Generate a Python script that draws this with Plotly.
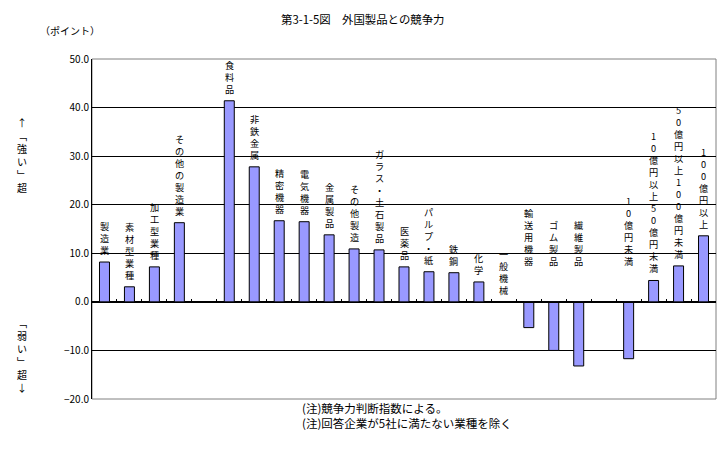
import plotly.graph_objects as go

categories = [
    "製造業", "素材型業種", "加工型業種", "その他の製造業", "",
    "食料品", "非鉄金属", "精密機器", "電気機器", "金属製品", "その他製造",
    "ガラス・土石製品", "医薬品", "パルプ・紙", "鉄鋼", "化学", "一般機械",
    "輸送用機器", "ゴム製品", "繊維製品", "",
    "10億円未満", "10億円以上50億円未満", "50億円以上100億円未満", "100億円以上",
]
values = [
    8.2, 3.1, 7.2, 16.3, None,
    41.4, 27.8, 16.7, 16.5, 13.8, 10.9,
    10.7, 7.2, 6.2, 6.0, 4.1, 0.0,
    -5.3, -10.0, -13.2, None,
    -11.7, 4.4, 7.4, 13.6,
]
y_ticks = [-20, -10, 0, 10, 20, 30, 40, 50]

FONT = "Noto Sans CJK JP"
xs = list(range(len(categories)))

fig = go.Figure(
    go.Bar(
        x=xs,
        y=[v if v is not None else 0 for v in values],
        width=0.4,
        marker={"color": "#9999FF", "line": {"color": "black", "width": 1}},
        hoverinfo="skip",
    )
)

# vertical category labels above each bar (or above the axis for negatives)
for x, name, v in zip(xs, categories, values):
    if not name or v is None:
        continue
    fig.add_annotation(
        x=x,
        y=max(v, 0),
        yshift=3 if v >= 0 else 32,
        text="<br>".join(name),
        showarrow=False,
        yanchor="bottom",
        font={"size": 9.2, "color": "black", "family": FONT},
    )

fig.update_xaxes(
    range=[-0.5, len(categories) - 0.5],
    showticklabels=False,
    showgrid=False,
    zeroline=False,
    anchor="free",
    position=20 / 70,
    showline=True,
    linecolor="black",
    linewidth=1,
    ticks="inside",
    ticklen=3,
    tickcolor="black",
    tickmode="array",
    tickvals=[i - 0.5 for i in range(len(categories) + 1)],
)
fig.update_yaxes(
    range=[-20, 50],
    tickvals=y_ticks,
    tickformat=".1f",
    showgrid=True,
    gridcolor="black",
    gridwidth=1,
    zeroline=False,
    showline=True,
    linecolor="black",
    linewidth=1,
    ticks="",
    tickfont={"size": 10, "family": FONT},
)

# gray frame on top / right / bottom
fig.add_shape(
    type="rect", xref="paper", yref="paper", x0=0, x1=1, y0=0, y1=1,
    line={"color": "#808080", "width": 1}, layer="below",
)

texts = [
    ("第3-1-5図　外国製品との競争力", 0.433, 1.118, "center", 11.4),
    ("（ポイント）", -0.035, 1.085, "center", 10),
    ("(注)競争力判断指数による。", 0.333, -0.026, "left", 11.5),
    ("(注)回答企業が5社に満たない業種を除く", 0.333, -0.07, "left", 11.5),
    ("↑<br>﹁<br>強<br>い<br>﹂<br>超", -0.112, 0.718, "center", 10),
    ("﹁<br>弱<br>い<br>﹂<br>超<br>↓", -0.112, 0.129, "center", 10),
]
for t, x, y, xa, size in texts:
    fig.add_annotation(
        text=t, x=x, y=y, xref="paper", yref="paper", showarrow=False,
        xanchor=xa, yanchor="middle",
        font={"size": size, "color": "black", "family": FONT},
    )

# page body has an 8px margin, so the figure is shrunk to fit the window
fig.update_layout(
    width=719,
    height=444,
    margin={"l": 84, "r": 11, "t": 51, "b": 53},
    plot_bgcolor="white",
    paper_bgcolor="white",
    showlegend=False,
    font={"family": FONT, "color": "black"},
)

fig.write_html("out.html")
